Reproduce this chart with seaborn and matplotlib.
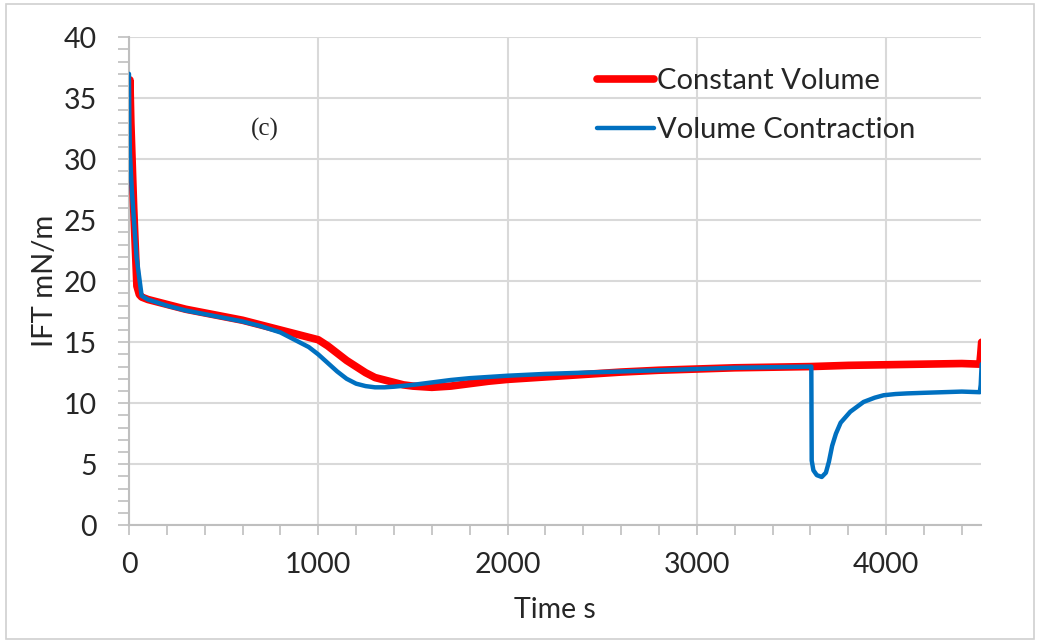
import matplotlib
matplotlib.use("Agg")
import matplotlib.pyplot as plt
import seaborn as sns
from matplotlib.patches import Rectangle
from matplotlib.ticker import MultipleLocator

# Constant Volume (red)
cv_time = [0, 5, 10, 25, 42, 55, 67, 100, 200, 300, 400, 500, 600, 700, 800,
           900, 950, 1000, 1050, 1100, 1150, 1200, 1250, 1300, 1350, 1400, 1450,
           1500, 1600, 1700, 1800, 1900, 2000, 2200, 2400, 2600, 2800, 3000, 3200,
           3400, 3600, 3800, 4000, 4200, 4400, 4495, 4500, 4505]
cv_ift = [30.5, 36.5, 33.0, 26.0, 19.6, 18.9, 18.7, 18.5, 18.1, 17.7, 17.4,
          17.1, 16.8, 16.4, 16.0, 15.6, 15.4, 15.2, 14.7, 14.1, 13.5, 13.0, 12.5,
          12.1, 11.9, 11.7, 11.5, 11.4, 11.3, 11.4, 11.6, 11.8, 11.95, 12.15, 12.35,
          12.55, 12.7, 12.8, 12.9, 12.95, 13.0, 13.1, 13.15, 13.2, 13.25, 13.2, 14.0, 15.0]

# Volume Contraction (blue)
vc_time = [0, 2, 5, 15, 40, 67, 100, 200, 300, 400, 500, 600, 700, 800, 850, 900,
           950, 1000, 1050, 1100, 1150, 1200, 1250, 1300, 1350, 1400, 1500, 1600,
           1700, 1800, 1900, 2000, 2200, 2400, 2600, 2800, 3000, 3200, 3400, 3605,
           3607, 3616, 3634, 3660, 3682, 3698, 3715, 3735, 3760, 3811, 3881, 3940, 3987,
           4050, 4110, 4200, 4300, 4400, 4495, 4500, 4505]
vc_ift = [37.0, 33.0, 30.5, 27.5, 22.0, 18.8, 18.5, 18.0, 17.6, 17.3, 17.0, 16.7,
          16.3, 15.8, 15.4, 15.0, 14.6, 14.0, 13.3, 12.6, 12.0, 11.6, 11.4, 11.3,
          11.3, 11.35, 11.5, 11.7, 11.9, 12.05, 12.15, 12.25, 12.4, 12.5, 12.6, 12.7,
          12.8, 12.9, 12.95, 13.0, 5.3, 4.5, 4.1, 3.95, 4.3, 5.2, 6.5, 7.5, 8.4, 9.3,
          10.1, 10.45, 10.65, 10.75, 10.8, 10.85, 10.9, 10.95, 10.9, 11.5, 13.2]

sns.set_style("white")
plt.rcParams['font.family'] = ['Lato', 'DejaVu Sans']

fig = plt.figure(figsize=(10.4, 6.42), dpi=100)
ax = fig.add_axes([0.124, 0.182, 0.819, 0.760])

grid_c = "#d9d9d9"
sns.lineplot(x=cv_time, y=cv_ift, ax=ax, color="#ff0000", lw=5.5,
             estimator=None, label="Constant Volume", zorder=3)
sns.lineplot(x=vc_time, y=vc_ift, ax=ax, color="#0070c0", lw=3.2,
             estimator=None, label="Volume Contraction", zorder=4)

ax.set_xlim(0, 4500)
ax.set_ylim(0, 40)
ax.xaxis.set_major_locator(MultipleLocator(1000))
ax.xaxis.set_minor_locator(MultipleLocator(200))
ax.yaxis.set_major_locator(MultipleLocator(5))
ax.yaxis.set_minor_locator(MultipleLocator(1))
ax.grid(True, which="major", color=grid_c, lw=1.5)
ax.set_axisbelow(True)

for s in ["top", "right"]:
    ax.spines[s].set_visible(False)
for s in ["left", "bottom"]:
    ax.spines[s].set_color("#bfbfbf")
    ax.spines[s].set_linewidth(1.5)

ax.tick_params(which="both", direction="out", color="#bfbfbf", width=1.2,
               labelsize=20.5)
ax.tick_params(axis="x", which="both", bottom=True, length=7, pad=12)
ax.tick_params(axis="y", which="both", left=True, length=8, pad=15)

ax.set_xlabel("Time s", fontsize=20.5, labelpad=14)
ax.set_ylabel("IFT mN/m", fontsize=21, labelpad=4)

ax.text(720, 32.4, "(c)", fontsize=18, family="Liberation Serif",
        ha="center", va="center")

leg = ax.legend(loc="upper left", bbox_to_anchor=(0.519, 0.99), frameon=False,
                fontsize=21, handlelength=1.95, handletextpad=0.1,
                labelspacing=0.78)

fig.patches.append(Rectangle((0.006, 0.004), 0.988, 0.99, transform=fig.transFigure,
                             fill=False, edgecolor="#d0d0d0", lw=1.2))

fig.savefig("out.png", dpi=100)
